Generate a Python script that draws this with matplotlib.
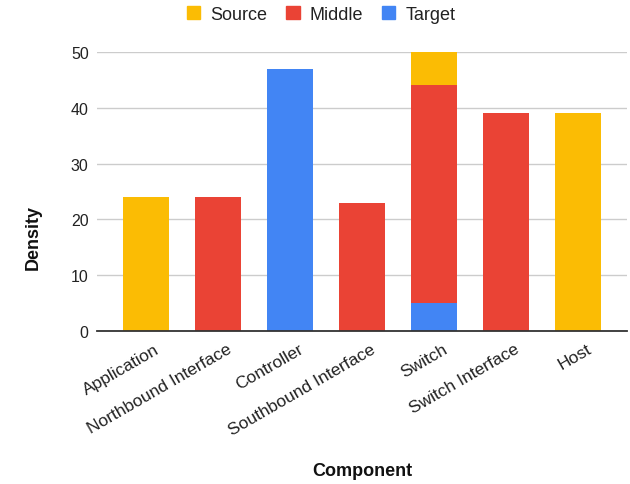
import matplotlib
matplotlib.use("Agg")
import matplotlib.pyplot as plt
from matplotlib.patches import Patch
from matplotlib.transforms import ScaledTranslation
import numpy as np

plt.rcParams['font.family'] = ['Liberation Sans', 'DejaVu Sans']

categories = ["Application", "Northbound Interface", "Controller",
              "Southbound Interface", "Switch", "Switch Interface", "Host"]
target = [0, 0, 47, 0, 5, 0, 0]
middle = [0, 24, 0, 23, 39, 39, 0]
source = [24, 0, 0, 0, 6, 0, 39]

colors = {"Source": "#fbbc04", "Middle": "#ea4335", "Target": "#4285f4"}

W, H = 630, 485
fig = plt.figure(figsize=(W / 100, H / 100), dpi=100)
ax = fig.add_axes([97 / W, 1 - 332 / H, 530 / W, (332 - 53) / H])

x = np.arange(len(categories))
w = 0.65
t = np.array(target)
m = np.array(middle)
s = np.array(source)
ax.bar(x, t, w, color=colors["Target"], zorder=3)
ax.bar(x, m, w, bottom=t, color=colors["Middle"], zorder=3)
ax.bar(x, s, w, bottom=t + m, color=colors["Source"], zorder=3)

ax.set_xlim(-0.68, 6.68)
ax.set_ylim(0, 50)
ax.set_yticks([0, 10, 20, 30, 40, 50])
ax.yaxis.grid(True, color="#cccccc", linewidth=1, zorder=0)
for sp in ["top", "right", "left"]:
    ax.spines[sp].set_visible(False)
ax.spines["bottom"].set_color("#333333")
ax.spines["bottom"].set_linewidth(1.3)
ax.spines["bottom"].set_zorder(4)
ax.tick_params(axis="both", length=0, colors="#222222")
ax.tick_params(axis="y", pad=6, labelsize=11.5)
ax.tick_params(axis="x", pad=4, labelsize=12.5)
ax.set_xticks(x)
ax.set_xticklabels(categories, rotation=30, ha="right", va="center",
                   rotation_mode="anchor")
shift = ScaledTranslation(12 / 100, -11 / 100, fig.dpi_scale_trans)
for lab in ax.get_xticklabels():
    lab.set_transform(lab.get_transform() + shift)

fig.text(33 / W, 1 - 237 / H, "Density", fontsize=13, fontweight="bold",
         rotation=90, ha="center", va="center", color="#111111")
fig.text(362 / W, 1 - 472 / H, "Component", fontsize=13,
         fontweight="bold", ha="center", va="center", color="#111111")

handles = [Patch(color=colors[k]) for k in ["Source", "Middle", "Target"]]
fig.legend(handles, ["Source", "Middle", "Target"], loc="center",
           bbox_to_anchor=(321 / W, 1 - 15 / H), ncol=3, frameon=False,
           fontsize=13, handlelength=0.75, handleheight=0.75,
           handletextpad=0.55, columnspacing=1.05, labelcolor="#222222")

fig.savefig("out.png", dpi=100)
